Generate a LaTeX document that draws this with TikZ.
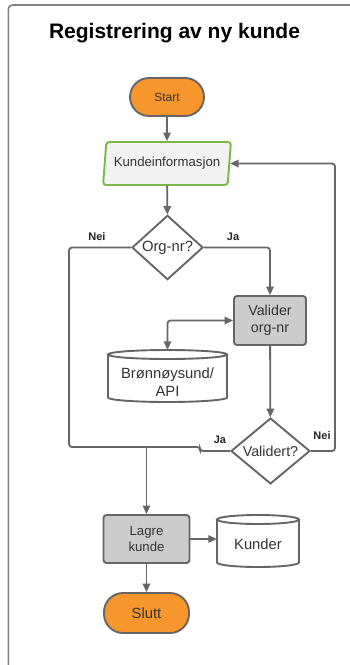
\documentclass[tikz,border=0pt]{standalone}
\usepackage{fontspec}
\setmainfont{Liberation Sans}
\usetikzlibrary{shapes.geometric,arrows.meta}

\definecolor{edgegray}{HTML}{666666}
\definecolor{framegray}{HTML}{808080}
\definecolor{termorange}{HTML}{F8962E}
\definecolor{procgray}{HTML}{CCCCCC}
\definecolor{inputfill}{HTML}{F2F2F2}
\definecolor{inputgreen}{HTML}{7AB648}
\definecolor{txt}{HTML}{333333}

\tikzset{
  base/.style={draw=edgegray, line width=1.9pt, text=txt, inner sep=0pt, align=center},
  terminal/.style={base, fill=termorange, rounded corners=19pt},
  process/.style={base, fill=procgray, rounded corners=3pt},
  decision/.style={base, diamond, fill=white},
  inputbox/.style={base, draw=inputgreen, fill=inputfill, trapezium,
    trapezium left angle=77, trapezium right angle=103,
    trapezium stretches=true, rounded corners=3pt},
  store/.style={inner sep=0pt, align=center, text=txt},
  cylbody/.style={draw=edgegray, line width=1.9pt, fill=white},
  link/.style={draw=edgegray, line width=1.8pt, rounded corners=3pt},
  flow/.style={link, -{Triangle[length=8.5pt,width=7.5pt]}},
  branch/.style={font=\bfseries\fontsize{11}{13}\selectfont, text=black!85, inner sep=0pt},
  f12/.style={font=\fontsize{12}{14}\selectfont},
  f13/.style={font=\fontsize{13.2}{16}\selectfont},
  f14/.style={font=\fontsize{14.3}{16.7}\selectfont},
  f15/.style={font=\fontsize{14.8}{18.3}\selectfont},
}

\begin{document}
\begin{tikzpicture}[x=1pt,y=-1pt]
  \useasboundingbox (0,0) rectangle (350,665);
  \clip (0,0) rectangle (350,665);

  % outer frame
  \draw[framegray, line width=1.6pt, rounded corners=4pt] (8.3,690) -- (8.3,5) -- (370,5);

  % title
  \node[font=\bfseries\fontsize{21}{25}\selectfont, text=black] (title) at (174.5,33) {Registrering av ny kunde};

  % cylinder bodies (data stores)
  \filldraw[cylbody] (108,354.5) -- (108,397.5)
     arc[start angle=180, end angle=0, x radius=59.5, y radius=4.5] -- (227,354.5);
  \filldraw[cylbody] (167.5,354.5) ellipse[x radius=59.5, y radius=4.5];
  \filldraw[cylbody] (217,519.5) -- (217,562.5)
     arc[start angle=180, end angle=0, x radius=41, y radius=4.5] -- (299,519.5);
  \filldraw[cylbody] (258,519.5) ellipse[x radius=41, y radius=4.5];

  % nodes
  \node[terminal, f12, minimum width=74pt, minimum height=38pt] (start) at (167,97) {Start};
  \node[inputbox, f13, minimum width=128pt, minimum height=43pt] (kinfo) at (167,163.5) {Kundeinformasjon};
  \node[decision, f15, minimum width=71pt, minimum height=59pt] (org) at (167.5,247.5) {Org-nr?};
  \node[process, f14, minimum width=72pt, minimum height=49pt] (valider) at (270,320.5) {Valider\\org-nr};
  \node[store, minimum width=119pt, minimum height=52pt,
        label={[store, f15, yshift=-6pt]center:{Brønnøysund/\\API}}] (brn) at (167.5,376) {};
  \node[decision, f14, minimum width=79pt, minimum height=58pt] (valid) at (270.5,451) {Validert?};
  \node[process, f13, minimum width=86pt, minimum height=48pt] (lagre) at (146.5,539) {Lagre\\kunde};
  \node[store, minimum width=82pt, minimum height=52pt,
        label={[store, f15, yshift=-3pt]center:{Kunder}}] (kunder) at (258,541) {};
  \node[terminal, f15, minimum width=85pt, minimum height=40pt] (slutt) at (146.5,613) {Slutt};

  % helper points for the routed lines
  \coordinate (nleft) at (69,447);
  \coordinate (merge) at (146.5,447);
  \coordinate (jstep) at (200,447);
  \coordinate (rback) at (335,163.5);

  % connectors
  \draw[flow] (start) -- (kinfo);
  \draw[flow] (kinfo) -- (org);
  \draw[flow] (org.east) -| (valider.north);
  \draw[link, {Triangle[length=8.5pt,width=7.5pt]}-{Triangle[length=8.5pt,width=7.5pt]}] (brn.north) |- (valider.west);
  \draw[flow] (valider) -- (valid);
  \draw[link] (org.west) -| (nleft) -- (merge);
  \draw[link] (valid.west) -| (jstep) -- (merge);
  \draw[flow] (valid.east) -| (rback) -- (kinfo.east);
  \draw[flow] (merge) -- (lagre.north);
  \draw[flow] (lagre.east) -- (lagre.east -| kunder.west);
  \draw[flow] (lagre) -- (slutt);

  % branch labels
  \node[branch] (neiorg) at (97,237) {Nei};
  \node[branch] (jaorg) at (233,237) {Ja};
  \node[branch] (javal) at (220,440) {Ja};
  \node[branch] (neival) at (322,436) {Nei};
\end{tikzpicture}
\end{document}
